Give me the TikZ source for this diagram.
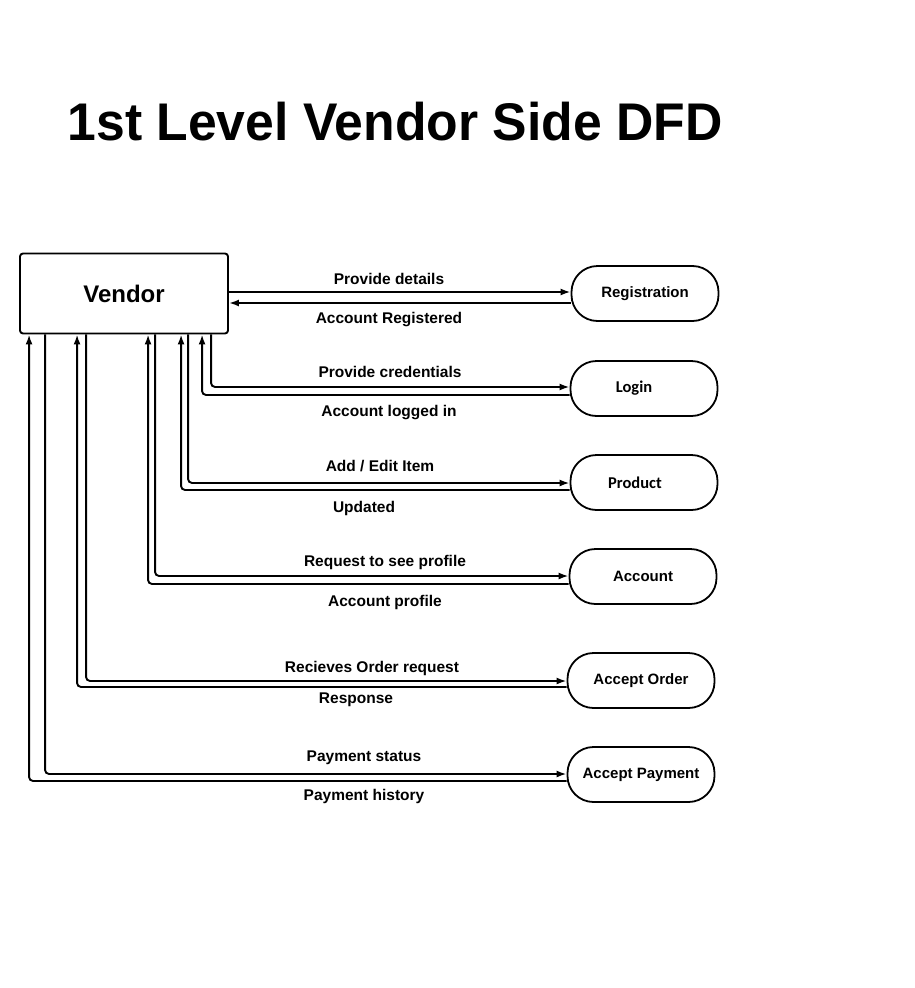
\documentclass[tikz,border=0pt]{standalone}
\usepackage{fontspec}
\setmainfont{Liberation Sans}
\newfontfamily\calibfont{Carlito}
\usetikzlibrary{shapes,shapes.geometric,calc,arrows.meta}
\begin{document}
\begin{tikzpicture}[x=1pt,y=-1pt]
	\tikzstyle{vbox}=[rectangle,draw,line width=1.9pt,rounded corners=3pt,minimum width=208pt,minimum height=80pt,font=\fontsize{24}{28}\selectfont\bfseries]
	\tikzstyle{pnode}=[rectangle,draw,line width=1.8pt,rounded corners=26pt,minimum width=147pt,minimum height=55pt,font=\fontsize{15}{18}\selectfont\bfseries]
	\tikzstyle{lbl}=[anchor=base,inner sep=0pt,font=\fontsize{15.5}{18}\selectfont\bfseries]
	\tikzstyle{flow}=[line width=1.9pt,rounded corners=4pt,-{Latex[length=10pt,width=7pt]}]
	\useasboundingbox (0,0) rectangle (914,988);
	\node[anchor=base,inner sep=0pt,font=\fontsize{53}{60}\selectfont\bfseries] (title) at (395,140) {\scalebox{0.975}[1]{1st Level Vendor Side DFD}};
	\node[vbox] (vendor) at (124,293.5) {Vendor};
	\node[pnode] (reg) at (645,293.5) {Registration};
	\node[pnode] (login) at (644,388.5) {\calibfont\fontsize{16.5}{18}\selectfont Login\hspace*{20pt}};
	\node[pnode] (product) at (644,482.5) {\calibfont\fontsize{16.5}{18}\selectfont Product\hspace*{18pt}};
	\node[pnode] (account) at (643,576.5) {Account};
	\node[pnode] (order) at (641,680.5) {Accept Order};
	\node[pnode] (payment) at (641,774.5) {Accept Payment};
	\draw[flow] ([yshift=1.5pt]vendor.east) -- ([yshift=1.5pt]reg.west);
	\draw[flow] ([yshift=-9.5pt]reg.west) -- ([yshift=-9.5pt]vendor.east);
	\draw[flow] ([xshift=192pt]vendor.south west) |- ([yshift=1.5pt]login.west);
	\draw[flow] ([yshift=-6.5pt]login.west) -| ([xshift=183pt]vendor.south west);
	\draw[flow] ([xshift=169pt]vendor.south west) |- ([yshift=-0.5pt]product.west);
	\draw[flow] ([yshift=-7.5pt]product.west) -| ([xshift=162pt]vendor.south west);
	\draw[flow] ([xshift=136pt]vendor.south west) |- ([yshift=0.5pt]account.west);
	\draw[flow] ([yshift=-7.5pt]account.west) -| ([xshift=129pt]vendor.south west);
	\draw[flow] ([xshift=67pt]vendor.south west) |- ([yshift=-0.5pt]order.west);
	\draw[flow] ([yshift=-6.5pt]order.west) -| ([xshift=58pt]vendor.south west);
	\draw[flow] ([xshift=26pt]vendor.south west) |- ([yshift=0.5pt]payment.west);
	\draw[flow] ([yshift=-6.5pt]payment.west) -| ([xshift=10pt]vendor.south west);
	\node[lbl] (details) at (389,284) {Provide details};
	\node[lbl] (registered) at (389,323) {Account Registered};
	\node[lbl] (creds) at (390,377) {Provide credentials};
	\node[lbl] (loggedin) at (389,416) {Account logged in};
	\node[lbl] (additem) at (380,471) {Add / Edit Item};
	\node[lbl] (updated) at (364,512) {Updated};
	\node[lbl] (seeprofile) at (385,566) {Request to see profile};
	\node[lbl] (profile) at (385,606) {Account profile};
	\node[lbl] (ordreq) at (372,672) {Recieves Order request};
	\node[lbl] (response) at (356,703) {Response};
	\node[lbl] (paystatus) at (364,761) {Payment status};
	\node[lbl] (payhist) at (364,800) {Payment history};
\end{tikzpicture}
\end{document}
